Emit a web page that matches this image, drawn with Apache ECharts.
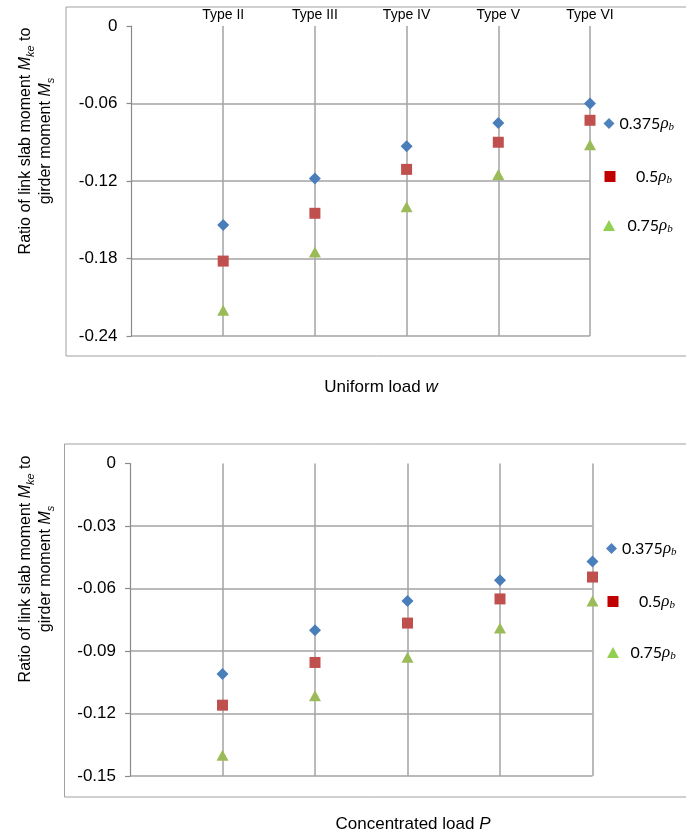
<!DOCTYPE html>
<html>
<head>
<meta charset="utf-8">
<script src="https://cdn.jsdelivr.net/npm/echarts@6/dist/echarts.min.js"></script>
<style>
html,body{margin:0;padding:0;background:#fff;}
#chart{width:686px;height:834px;}
</style>
</head>
<body>
<div id="chart"></div>
<script>
// ---- data ----
var categories = ['Type II', 'Type III', 'Type IV', 'Type V', 'Type VI'];
var seriesNames = ['0.375ρb', '0.5ρb', '0.75ρb'];
// Uniform load w
var uniform375 = [-0.154, -0.118, -0.093, -0.075, -0.060];
var uniform50  = [-0.182, -0.145, -0.111, -0.090, -0.073];
var uniform75  = [-0.220, -0.175, -0.140, -0.115, -0.092];
// Concentrated load P
var conc375 = [-0.101, -0.080, -0.066, -0.056, -0.047];
var conc50  = [-0.116, -0.0955, -0.0766, -0.065, -0.0545];
var conc75  = [-0.140, -0.1115, -0.093, -0.079, -0.066];
// axis ticks
var yTicksTop = [0, -0.06, -0.12, -0.18, -0.24];
var yTicksBottom = [0, -0.03, -0.06, -0.09, -0.12, -0.15];

var chart = echarts.init(document.getElementById('chart'));

var gridColor = '#a3a3a3';
var axisColor = '#8a8a8a';
var labelFont = 'Liberation Sans, Arial, sans-serif';
var legendFont = 'Lato, "Open Sans", sans-serif';
var mathFont = '"Liberation Serif", "DejaVu Serif", serif';

var markerColors = ['#4A7EBB', '#C0504D', '#9BBB59'];
var legendColors = ['#4F81BD', '#C00000', '#92D050'];
var symbols = ['diamond', 'rect', 'triangle'];
var symbolSizes = [[12, 12], [11, 11], [12, 11]];

function toPts(arr) { return arr.map(function (v, i) { return [i + 1, v]; }); }

function yFmt(v) { return Math.abs(v) < 1e-9 ? '0' : v.toFixed(2); }

function yAxisDef(gi, min, interval) {
  return {
    type: 'value', gridIndex: gi, min: min, max: 0, interval: interval,
    axisLine: { show: true, onZero: false, lineStyle: { color: axisColor, width: 1.2 } },
    axisTick: { show: true, length: 5, lineStyle: { color: axisColor, width: 1.2 } },
    axisLabel: { margin: 14, fontFamily: labelFont, fontSize: 17, color: '#000', formatter: yFmt },
    splitLine: { show: true, showMaxLine: false, lineStyle: { color: gridColor, width: 1.5 } }
  };
}
function xAxisDef(gi) {
  return {
    type: 'value', gridIndex: gi, min: 0, max: 5, interval: 1, position: 'bottom',
    axisLine: { show: false }, axisTick: { show: false }, axisLabel: { show: false },
    splitLine: { show: true, showMinLine: false, lineStyle: { color: gridColor, width: 1.5 } }
  };
}

var dataSets = [[uniform375, uniform50, uniform75], [conc375, conc50, conc75]];
var series = [];
for (var g = 0; g < 2; g++) {
  for (var s = 0; s < 3; s++) {
    series.push({
      type: 'scatter', name: seriesNames[s], xAxisIndex: g, yAxisIndex: g,
      symbol: symbols[s], symbolSize: symbolSizes[s],
      itemStyle: { color: markerColors[s], opacity: 1 },
      data: toPts(dataSets[g][s]), z: 5
    });
  }
}

function legendFormatter(name) {
  var num = name.replace('ρb', '');
  return '{n|' + num + '}{r|ρ}{s|b}';
}
function makeLegend(idx, iconCx, cy, textPad, iw, ih) {
  return {
    show: true, orient: 'vertical', padding: 0,
    left: iconCx - iw / 2, top: cy - 9,
    itemWidth: iw, itemHeight: ih, selectedMode: false,
    data: [{ name: seriesNames[idx], icon: symbols[idx], itemStyle: { color: legendColors[idx] } }],
    formatter: legendFormatter,
    textStyle: {
      rich: {
        n: { fontFamily: legendFont, fontSize: 16, color: '#000', lineHeight: 18, padding: [0, 0, 0, textPad] },
        r: { fontFamily: mathFont, fontStyle: 'italic', fontSize: 17, color: '#000', lineHeight: 18 },
        s: { fontFamily: mathFont, fontStyle: 'italic', fontSize: 11, color: '#000', lineHeight: 10, verticalAlign: 'bottom' }
      }
    }
  };
}

var legends = [
  makeLegend(0, 609, 124, 0, 11, 11),
  makeLegend(1, 610, 177, 15.5, 11, 11),
  makeLegend(2, 609, 226, 7.5, 12, 11),
  makeLegend(0, 611.5, 549, 0, 11, 11),
  makeLegend(1, 613, 602, 15.5, 11, 11),
  makeLegend(2, 613, 653, 6.5, 12, 11)
];

var yTitleRich = {
  a: { fontFamily: labelFont, fontSize: 16, color: '#000', lineHeight: 20 },
  i: { fontFamily: labelFont, fontStyle: 'italic', fontSize: 16, color: '#000', lineHeight: 20 },
  s: { fontFamily: labelFont, fontStyle: 'italic', fontSize: 11, color: '#000', lineHeight: 12, verticalAlign: 'bottom' }
};
var yTitleText = '{a|Ratio of link slab moment }{i|M}{s|ke}{a| to}\n{a|girder moment }{i|M}{s|s}';
var xNameRich = {
  a: { fontFamily: labelFont, fontSize: 17, color: '#000' },
  i: { fontFamily: labelFont, fontStyle: 'italic', fontSize: 17, color: '#000' }
};

var option = {
  animation: false,
  backgroundColor: '#fff',
  grid: [
    { left: 131.5, right: 686 - 590, top: 26, height: 310 },
    { left: 130, right: 686 - 592.5, top: 463.5, height: 312.5 }
  ],
  xAxis: [
    xAxisDef(0), xAxisDef(1),
    {
      type: 'value', gridIndex: 0, min: 0, max: 5, interval: 1, position: 'top',
      axisLine: { show: false }, axisTick: { show: false }, splitLine: { show: false },
      axisLabel: {
        show: true, margin: 4, fontFamily: '"Liberation Sans Narrow", "Arial Narrow", sans-serif', fontSize: 14, color: '#000',
        showMinLabel: false,
        formatter: function (v) { return categories[Math.round(v) - 1] || ''; }
      }
    }
  ],
  yAxis: [yAxisDef(0, -0.24, 0.06), yAxisDef(1, -0.15, 0.03)],
  legend: legends,
  series: series,
  graphic: [
    { type: 'rect', shape: { x: 66, y: 7, width: 640, height: 349 }, style: { fill: 'none', stroke: '#a0a0a0', lineWidth: 1 }, z: 0 },
    { type: 'rect', shape: { x: 64.5, y: 444, width: 640, height: 353 }, style: { fill: 'none', stroke: '#a0a0a0', lineWidth: 1 }, z: 0 },
    { type: 'text', x: 36, y: 141, rotation: Math.PI / 2,
      style: { text: yTitleText, rich: yTitleRich, align: 'center', verticalAlign: 'middle' } },
    { type: 'text', x: 36, y: 569, rotation: Math.PI / 2,
      style: { text: yTitleText, rich: yTitleRich, align: 'center', verticalAlign: 'middle' } },
    { type: 'text', x: 381, y: 387,
      style: { text: '{a|Uniform load }{i|w}', rich: xNameRich, align: 'center', verticalAlign: 'middle' } },
    { type: 'text', x: 413, y: 824,
      style: { text: '{a|Concentrated load }{i|P}', rich: xNameRich, align: 'center', verticalAlign: 'middle' } }
  ]
};
chart.setOption(option);
</script>
</body>
</html>
